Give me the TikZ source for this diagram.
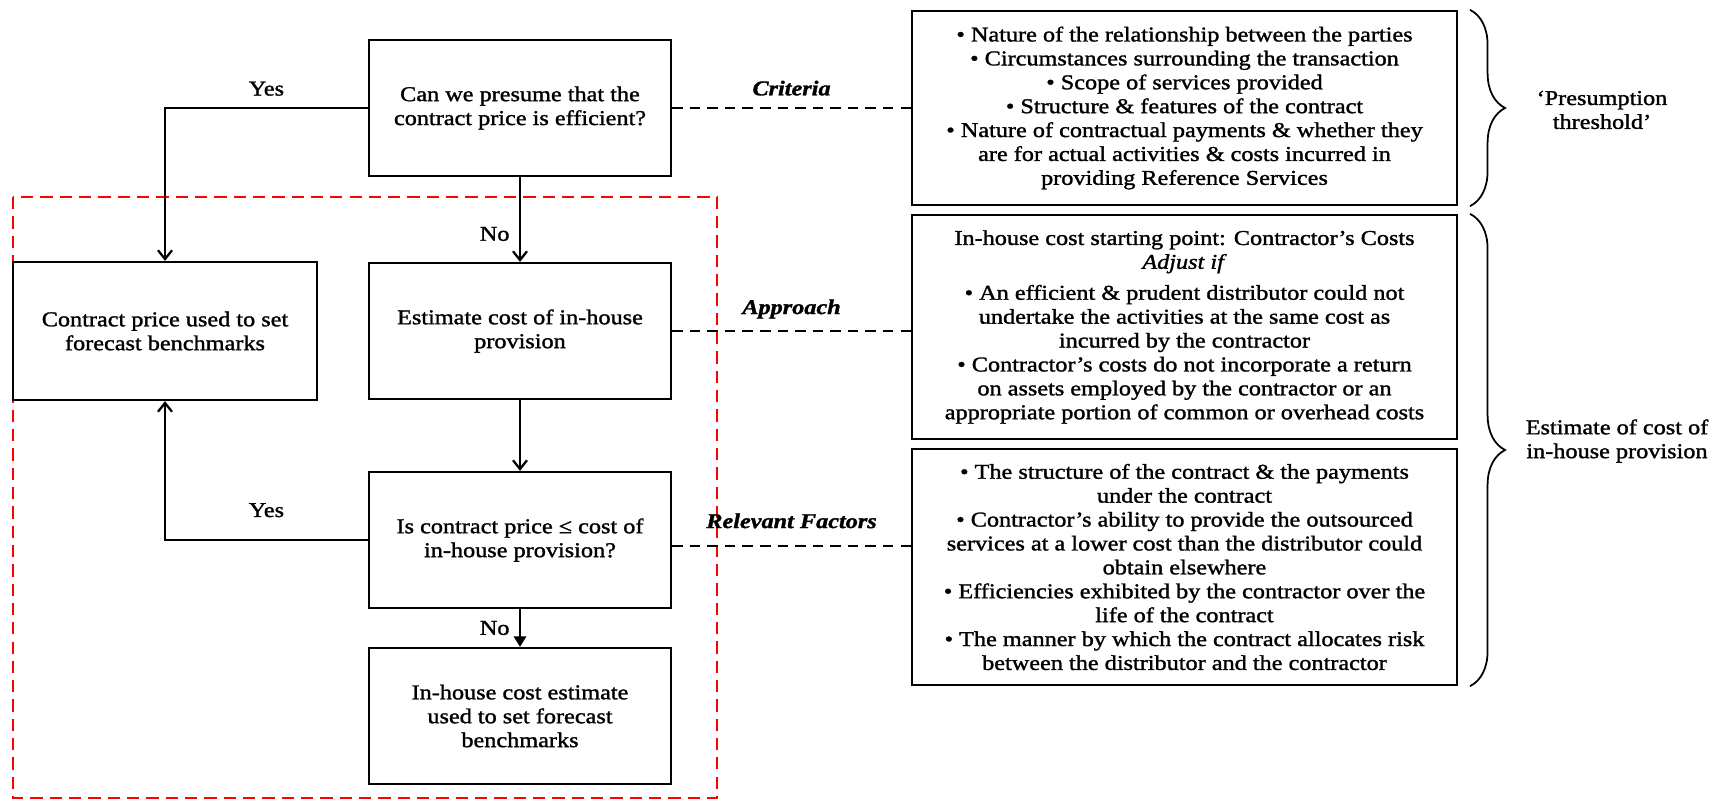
\documentclass[tikz,border=0pt]{standalone}
\usepackage{fontspec}
\setmainfont{Liberation Serif}[FakeStretch=1.15, FakeBold=1.4]
\usetikzlibrary{arrows.meta,decorations.pathreplacing}
\newcommand{\diagfont}{\fontsize{12}{13.6}\selectfont}

\begin{document}
\begin{tikzpicture}[x=0.02cm, y=-0.02cm,
    flowbox/.style={draw, line width=1.3pt, minimum width=6.04cm,
                    minimum height=2.72cm, align=center, inner sep=2pt,
                    font=\diagfont},
    notebox/.style={draw, line width=1.3pt, minimum width=10.9cm,
                    align=center, inner sep=2pt, font=\diagfont},
    flow/.style={line width=1.3pt, -{Straight Barb[length=5pt,width=8pt]}},
    link/.style={line width=1.5pt, dash pattern=on 6pt off 4pt},
    tag/.style={font=\diagfont\bfseries\itshape},
    lbl/.style={font=\diagfont},
    curly/.style={line width=1pt,
                  decorate, decoration={brace, amplitude=0.7cm}},
  ]
  \useasboundingbox (0,0) rectangle (1722,801);
  % The red scope of the in-house estimate
  \draw[red, line width=1.4pt, dash pattern=on 7pt off 4pt]
    (13,197) rectangle (717,798);
  % Flow chart on the left
  \node[flowbox] (q_presume) at (520,108)
    {Can we presume that the\\contract price is efficient?};
  \node[flowbox, minimum width=6.08cm, minimum height=2.76cm]
    (contract_price) at (165,331)
    {Contract price used to set\\forecast benchmarks};
  \node[flowbox] (est_inhouse) at (520,331)
    {Estimate cost of in-house\\provision};
  \node[flowbox] (q_compare) at (520,540)
    {Is contract price ≤ cost of\\in-house provision?};
  \node[flowbox] (inhouse_used) at (520,716)
    {In-house cost estimate\\used to set forecast\\benchmarks};
  % Notes on the right
  \node[notebox, minimum height=3.88cm] (crit_box) at (1184.5,108)
    {\textbullet\ Nature of the relationship between the parties\\
     \textbullet\ Circumstances surrounding the transaction\\
     \textbullet\ Scope of services provided\\
     \textbullet\ Structure \& features of the contract\\
     \textbullet\ Nature of contractual payments \& whether they\\
     are for actual activities \& costs incurred in\\
     providing Reference Services};
  \node[notebox, minimum height=4.48cm] (appr_box) at (1184.5,327)
    {In-house cost starting point: Contractor’s Costs\\
     \textit{Adjust if}\\[4pt]
     \textbullet\ An efficient \& prudent distributor could not\\
     undertake the activities at the same cost as\\
     incurred by the contractor\\
     \textbullet\ Contractor’s costs do not incorporate a return\\
     on assets employed by the contractor or an\\
     appropriate portion of common or overhead costs};
  \node[notebox, minimum height=4.72cm] (fact_box) at (1184.5,567)
    {\textbullet\ The structure of the contract \& the payments\\
     under the contract\\
     \textbullet\ Contractor’s ability to provide the outsourced\\
     services at a lower cost than the distributor could\\
     obtain elsewhere\\
     \textbullet\ Efficiencies exhibited by the contractor over the\\
     life of the contract\\
     \textbullet\ The manner by which the contract allocates risk\\
     between the distributor and the contractor};
  % Decisions
  \draw[flow] (q_presume.west) -| node[lbl, pos=0.25, above=3pt] {Yes}
    (contract_price.north);
  \draw[flow] (q_presume) -- node[lbl, pos=0.67, left=2pt] {No} (est_inhouse);
  \draw[flow] (est_inhouse) -- (q_compare);
  \draw[flow] (q_compare.west) -| node[lbl, pos=0.25, above=9pt] {Yes}
    (contract_price.south);
  \draw[line width=1.3pt, -{Triangle[length=6pt,width=7pt]}]
    (q_compare) -- node[lbl, midway, left=2pt] {No} (inhouse_used);
  % Dashed links to the notes
  \draw[link] (q_presume.east) -- node[tag, above=3pt] {Criteria}
    (q_presume.east -| crit_box.west);
  \draw[link] (est_inhouse.east) -- node[tag, above=3pt] {Approach}
    (est_inhouse.east -| appr_box.west);
  \draw[link] ([yshift=-0.12cm]q_compare.east) -- node[tag, above=6pt] {Relevant Factors}
    ([yshift=-0.12cm]q_compare.east -| fact_box.west);
  % Braces
  \coordinate (b1_top) at ([xshift=0.24cm]crit_box.north east);
  \coordinate (b1_bot) at ([xshift=0.24cm]crit_box.south east);
  \draw[curly] (b1_top) -- (b1_bot);
  \coordinate (b2_top) at ([xshift=0.24cm]appr_box.north east);
  \coordinate (b2_bot) at ([xshift=0.24cm]fact_box.south east);
  \draw[curly] (b2_top) -- (b2_bot);
  \node[lbl, align=center] (thresh) at (1602,110)
    {‘Presumption\\threshold’};
  \node[lbl, align=center] (est_label) at (1617,441)
    {Estimate of cost of\\in-house provision};
\end{tikzpicture}
\end{document}
